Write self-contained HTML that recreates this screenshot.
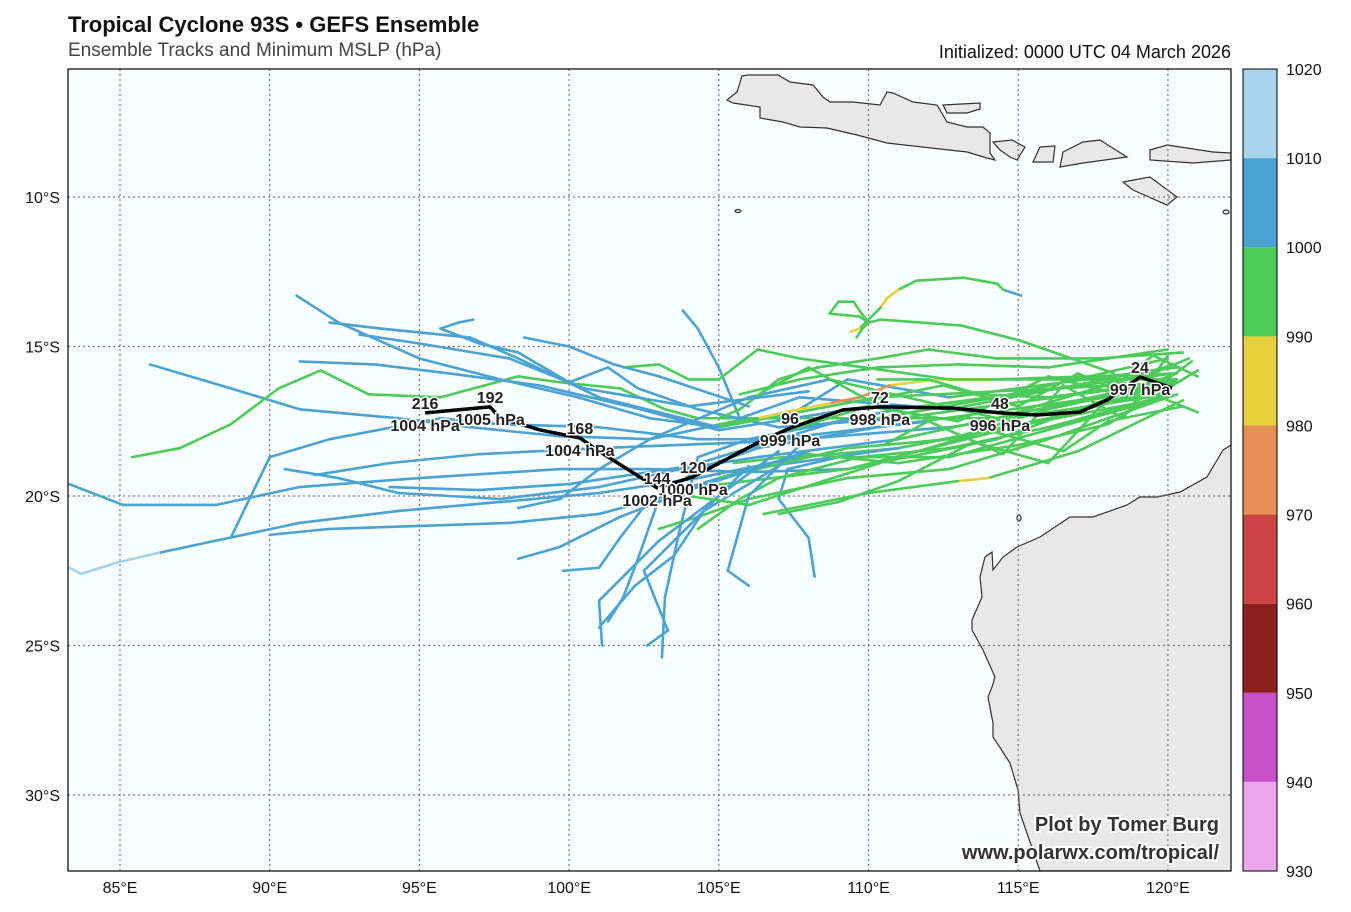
<!DOCTYPE html>
<html><head><meta charset="utf-8">
<style>
body{margin:0;background:#fff;font-family:"Liberation Sans",sans-serif;}
svg{display:block}
.t{font-family:"Liberation Sans",sans-serif;}
</style></head>
<body>
<svg id="chart" width="1351" height="912" viewBox="0 0 1351 912">
<defs><clipPath id="mapclip"><rect x="68" y="69" width="1163" height="802"/></clipPath></defs>
<text x="68" y="32" font-size="22" font-weight="bold" fill="#111" class="t">Tropical Cyclone 93S • GEFS Ensemble</text>
<text x="68" y="56" font-size="19" fill="#444" class="t">Ensemble Tracks and Minimum MSLP (hPa)</text>
<text x="1231" y="58" font-size="18" fill="#111" text-anchor="end" class="t">Initialized: 0000 UTC 04 March 2026</text>
<rect x="68" y="69" width="1163" height="802" fill="#f8fdfe"/>
<g clip-path="url(#mapclip)">
<g id="land" fill="#e8e8e8" stroke="#333" stroke-width="1.2">
<path d="M742,76 L748,75 L778,75 L790,82 L813,85 L823,97 L830,102 L853,102 L880,105 L887,92 L893,93 L913,102 L937,105 L947,122 L967,127 L983,127 L990,133 L990,153 L995,160 L987,158 L967,152 L940,149 L887,143 L857,135 L827,128 L800,127 L783,122 L760,118 L760,107 L733,103 L727,100 L737,92 Z"/>
<path d="M943,105 L980,103 L980,109 L967,113 L947,113 Z"/>
<path d="M993,142 L1012,140 L1025,147 L1017,160 L1010,157 L1000,150 Z"/>
<path d="M1040,147 L1055,146 L1053,162 L1033,162 Z"/>
<path d="M1063,152 L1083,142 L1100,140 L1127,157 L1083,163 L1060,167 Z"/>
<path d="M1150,150 L1167,145 L1213,152 L1231,153 L1231,160 L1193,163 L1150,160 Z"/>
<path d="M1123,182 L1150,177 L1177,197 L1167,205 L1133,190 Z"/>
<path d="M1231,445 L1223,450 L1207,477 L1180,492 L1157,497 L1140,497 L1127,505 L1093,517 L1070,517 L1040,537 L1017,547 L1003,557 L993,570 L992,552 L985,557 L980,577 L982,597 L972,620 L972,630 L983,650 L995,677 L992,687 L988,697 L993,723 L993,737 L1010,763 L1018,790 L1020,813 L1040,871 L1240,871 L1240,445 Z"/>
<ellipse cx="738" cy="211" rx="3" ry="1.5"/><ellipse cx="1226" cy="212" rx="3" ry="2"/><ellipse cx="1019" cy="518" rx="2" ry="3"/>
</g>
<g id="grid"></g>
<g id="tracks"></g>
<g id="mean"></g>
</g>
<rect x="68" y="69" width="1163" height="802" fill="none" stroke="#000" stroke-width="1.2"/>
<g id="axes"></g>
<g id="cbar"></g>
<g font-size="20" font-weight="bold" text-anchor="end" fill="#333" stroke="#fff" stroke-width="4" paint-order="stroke" class="t">
<text x="1219" y="831">Plot by Tomer Burg</text>
<text x="1219" y="859">www.polarwx.com/tropical/</text>
</g>
</svg>
<script>
const NS="http://www.w3.org/2000/svg";
const lonTicks=[85,90,95,100,105,110,115,120];
const latTicks=[10,15,20,25,30];
const cbarLevels=[930,940,950,960,970,980,990,1000,1010,1020];
const cbarColors=["#eaa6e8","#c94fc9","#8b1f1f","#cc4343","#e79055","#e6d03c","#4dcb5a","#4ba3d3","#a6d3ec"];
const meanLon=[120.14,119.07,117.97,117.06,115.63,114.39,112.82,110.38,109.15,107.38,106.28,104.14,102.94,100.93,100.36,99.03,97.69,97.36,95.19];
const meanLat=[-16.39,-16.02,-16.79,-17.19,-17.29,-17.22,-17.06,-17.02,-17.12,-17.73,-18.23,-19.36,-19.73,-18.46,-18.06,-17.79,-17.39,-17.02,-17.22];
const labelIdx=[1,5,7,9,11,12,14,17,18];
const labelHours=[24,48,72,96,120,144,168,192,216];
const labelPres=[997,996,998,999,1000,1002,1004,1005,1004];
// ensemble tracks: [lon, lat, pressure]
const tracks=[
[[120.3,-16.2,995],[116,-17.4,995],[111,-18.4,995],[107.7,-18.7,1005],[104.3,-19.4,1005],[101,-19.9,1005],[97.7,-20.2,1005],[94.3,-20.5,1005],[91,-20.9,1005],[87.7,-21.6,1005],[86.3,-21.9,1012],[85,-22.2,1012],[83.7,-22.6,1012],[83.3,-22.4,1012]],
[[120.3,-15.9,995],[114.3,-18.1,995],[109.3,-19.1,1005],[106,-19.2,1005],[102.7,-19.1,1005],[99.7,-19.1,1005],[95,-19.4,1005],[91,-19.7,1005],[88.2,-20.3,1005],[85.1,-20.3,1005],[83.3,-19.6,1005]],
[[120,-15.4,995],[114.3,-16.7,995],[110.3,-17.4,1005],[106,-17.4,1005],[102.7,-18.1,1005],[99.7,-18,1005],[96.7,-17.7,1005],[94.3,-17.4,1005],[91,-17.1,1005],[88.7,-16.4,1005],[86,-15.6,1005]],
[[120.2,-15.6,995],[114.3,-17.4,995],[109.3,-17.4,995],[104.3,-17.4,995],[103.2,-17.1,995],[101.7,-16.4,995],[99.7,-16.2,995],[98.3,-16,995],[95.7,-16.7,995],[93.3,-16.6,995],[91.7,-15.8,995],[90.3,-16.4,995],[88.7,-17.6,995],[87,-18.4,995],[85.4,-18.7,995]],
[[120.3,-15.7,995],[112.7,-16.7,1005],[109.3,-16.1,1005],[107.7,-17.1,1005],[105,-17.7,1005],[102.7,-17.4,1005],[100.3,-16.7,1005],[97.7,-16.1,1005],[95,-15.4,1005],[92.3,-14.2,1005],[90.9,-13.3,1005]],
[[120,-16.6,995],[112.7,-17.7,1005],[107.7,-18.1,1005],[104.3,-18.1,1005],[101,-17.7,1005],[97.7,-17.6,1005],[95.7,-17.4,1005],[92,-18.1,1005],[90,-18.7,1005],[88.7,-21.4,1005]],
[[120.3,-16.1,995],[111,-18.1,1005],[106.3,-18.7,1005],[103.7,-19.1,1005],[101,-19.7,1005],[97.7,-20.1,1005],[94.3,-19.9,1005],[92.3,-19.4,1005],[90.5,-19.1,1005]],
[[120,-16.2,995],[111,-17.4,1005],[107,-17.7,1005],[104.3,-17.1,1005],[102.3,-16.4,1005],[101.3,-15.7,1005],[100,-16.2,1005],[98.3,-15.2,1005],[97,-14.9,1005],[95.7,-14.4,1005],[96.3,-14.2,1005],[96.8,-14.1,1005]],
[[120,-16.4,995],[110.3,-17.7,1005],[106.3,-18.4,1005],[104.3,-19.1,1005],[103,-20.1,1005],[102.3,-22.1,1005],[101.8,-23.4,1005],[101.3,-24.2,1005]],
[[120.2,-15.9,995],[111,-17.1,1005],[106,-18.1,1005],[104.3,-18.7,1005],[103.7,-21.1,1005],[103.2,-23.4,1005],[103.1,-25.4,1005]],
[[120,-15.7,995],[112.7,-17.1,1005],[107.7,-16.7,1005],[105.7,-17.4,1005],[105,-15.7,1005],[104.3,-14.4,1005],[103.8,-13.8,1005]],
[[120.3,-16.6,995],[112.7,-18.7,995],[109,-18.7,1005],[107.3,-19.1,1005],[107,-20.1,1005],[108,-21.4,1005],[108.2,-22.7,1005]],
[[120,-16.7,995],[111,-18.4,1005],[106,-19.1,1005],[102.7,-20.1,1005],[101.7,-21.4,1005],[101,-22.4,1005],[99.8,-22.5,1005]],
[[120.2,-16.1,995],[114.3,-17.4,995],[108.7,-16.1,1005],[106,-16.7,1005],[102.7,-18.1,1005],[101,-19.1,1005],[99.7,-20.1,1005],[98.3,-20.4,1005]],
[[120.3,-16.2,995],[110.3,-16.7,995],[105,-17.7,1005],[101,-16.7,1005],[98.3,-15.4,1005],[96.7,-14.7,1005],[93.7,-14.4,1005],[92,-14.2,1005]],
[[120,-16.4,995],[109.3,-19.1,995],[104.3,-19.7,1005],[101.7,-20.7,1005],[99.7,-21.7,1005],[98.3,-22.1,1005]],
[[115.1,-13.3,1005],[114.5,-13.1,995],[114.3,-12.9,995],[113.2,-12.7,995],[111.6,-12.8,995],[111,-13.1,985],[110.6,-13.4,985],[110.4,-13.7,995],[110.1,-14.0,995],[109.7,-14.4,985],[109.4,-14.5,985]],
[[118.2,-15.9,995],[115.06,-14.8,995],[113.1,-14.3,995],[110.4,-14.1,995],[110,-14.2,995],[109.7,-13.8,995],[109.5,-13.5,995],[109,-13.5,995],[108.7,-13.9,995],[109.7,-14.0,995],[110,-14.2,995],[109.8,-14.4,995],[109.6,-14.7,995]],
[[120.5,-15.2,995],[117.7,-15.4,995],[114.3,-15.4,995],[112,-15.1,995],[110.3,-15.4,995],[108.3,-15.7,995],[107,-16.1,995],[105.7,-17.1,995],[105,-17.4,995]],
[[120.3,-16.6,995],[116,-18.1,995],[112.7,-19.1,995],[109.3,-19.4,995],[106,-20.1,995],[104.3,-20.7,995],[103,-21.1,995]],
[[120.2,-16.2,995],[116,-17.1,995],[112.7,-18.1,995],[109.3,-18.4,995],[106.3,-19.1,995],[105,-19.4,995]],
[[119.7,-16.7,995],[116,-17.7,995],[112.7,-18.4,995],[109.7,-18.7,995],[107,-19.4,995],[105.7,-20.1,995],[104.3,-21.1,995]],
[[120,-15.1,995],[116,-15.7,995],[113,-15.6,995],[110.3,-15.7,995],[107.7,-16.1,995],[105.7,-16.6,995]],
[[120.3,-15.9,995],[114.3,-16.1,985],[112.3,-16.1,985],[110.7,-16.3,975],[109.7,-16.7,975],[108.7,-16.9,985],[107.7,-17.1,985],[106.3,-17.4,995],[105,-17.6,995]],
[[120.7,-15.4,995],[118.3,-16.4,995],[116,-16.7,995],[113.7,-16.6,995],[112,-16.1,995],[110.3,-16.1,995]],
[[120.3,-16.1,995],[112.7,-16.1,995],[107.7,-15.4,995],[106.3,-15.1,995],[105,-16.1,995],[104,-16.1,995],[103,-15.6,995],[101.8,-15.7,995]],
[[120.5,-16.8,995],[117,-18.5,995],[114,-19.4,985],[113,-19.5,995],[110,-19.9,995],[106.5,-20.6,995]],
[[121,-15.8,995],[118,-17.6,995],[115,-18.3,995],[111,-18.9,995],[108,-18.6,995],[105.5,-18.9,995]],
[[112,-17.5,1005],[106,-18.2,1005],[101,-18.4,1005],[97,-18.6,1005],[94,-18.9,1005],[91.5,-19.3,1005]],
[[110,-17,1005],[105,-17.8,1005],[102,-17,1005],[99,-16.3,1005],[96,-15.9,1005],[93.5,-15.6,1005],[91,-15.5,1005]],
[[108,-16.5,1005],[104,-17,1005],[100.5,-16.4,1005],[98,-15.4,1005],[95,-14.9,1005],[93,-14.6,1005]],
[[108,-18.5,1005],[104,-19.8,1005],[101,-20.6,1005],[98,-20.9,1005],[95,-21,1005],[92,-21.1,1005],[90,-21.3,1005]],
[[107,-19,1005],[104.5,-20.5,1005],[103.5,-22,1005],[102.2,-23,1005],[101,-24.4,1005]],
[[106,-19,1005],[104,-21,1005],[102.5,-22.5,1005],[103.3,-24.5,1005],[102.6,-25,1005]],
[[108,-18,1005],[106,-20,1005],[105.3,-22.5,1005],[106,-23,1005]],
[[107,-18.5,1005],[103,-21.5,1005],[101,-23.5,1005],[101.1,-25,1005]],
[[106,-17,1005],[103,-16,1005],[101.5,-15.6,1005],[100,-15,1005],[98.5,-14.7,1005]],
[[109,-17.5,1005],[104,-19,1005],[100,-19.6,1005],[97,-19.8,1005],[94,-19.7,1005]],
[[121,-16,995],[119.5,-15.3,995],[118,-16.5,995],[116,-16,995],[113,-17.5,995],[110,-17,995],[107,-17.9,995]],
[[120.5,-17,995],[118,-17.5,995],[116.5,-18.5,995],[114,-17.8,995],[111,-18.7,995],[108.5,-19.5,995],[106,-20.3,995],[104,-20,995]],
[[120.8,-15.5,995],[119,-16.8,995],[117,-15.9,995],[115,-17,995],[112.5,-16.3,995],[110,-16.8,995],[108,-15.7,995],[106.5,-16.5,995]],
[[121,-17.2,995],[118.5,-16.2,995],[116,-18.9,995],[113.5,-18.2,995],[111,-19.5,995],[109,-20.2,995],[107,-20.6,995]],
[[120,-15.3,995],[118.5,-17.4,995],[116.5,-16.3,995],[114.5,-18.6,995],[112,-17.5,995],[110.5,-18.3,995]]
];
function xOf(lon){return 120+(lon-85)*29.94;}
function yOf(lat){return 197+(-lat-10)*29.9;}
function colorOf(p){for(let i=0;i<cbarColors.length;i++){if(p<cbarLevels[i+1])return cbarColors[i];}return cbarColors[cbarColors.length-1];}
function mk(tag,attrs,parent){const e=document.createElementNS(NS,tag);for(const k in attrs)e.setAttribute(k,attrs[k]);parent.appendChild(e);return e;}
const grid=document.getElementById('grid'),axes=document.getElementById('axes');
lonTicks.forEach(l=>{const x=xOf(l);
 const g=mk('line',{x1:x,x2:x,y1:69,y2:871,stroke:'#777','stroke-width':1.2,'stroke-dasharray':'2,3'},grid);
 
 
 const t=mk('text',{x:x,y:893,'font-size':16,'text-anchor':'middle',fill:'#111',class:'t'},axes);t.textContent=l+'°E';
 
 
});
latTicks.forEach(l=>{const y=yOf(-l);
 const g=mk('line',{x1:68,x2:1231,y1:y,y2:y,stroke:'#777','stroke-width':1.2,'stroke-dasharray':'2,3'},grid);
 
 
 const t=mk('text',{x:60,y:y+6,'font-size':16,'text-anchor':'end',fill:'#111',class:'t'},axes);t.textContent=l+'°S';
 
 
});
const tg=document.getElementById('tracks');
tracks.forEach(tr=>{for(let i=0;i<tr.length-1;i++){
 const s=mk('line',{x1:xOf(tr[i][0]),y1:yOf(tr[i][1]),x2:xOf(tr[i+1][0]),y2:yOf(tr[i+1][1]),stroke:colorOf(tr[i][2]),'stroke-width':2.6,'stroke-linecap':'round'},tg);
 
 
}});
const mg=document.getElementById('mean');
const mp=mk('polyline',{points:meanLon.map((l,i)=>xOf(l)+','+yOf(meanLat[i])).join(' '),fill:'none',stroke:'#000','stroke-width':3.5,'stroke-linejoin':'round'},mg);


labelIdx.forEach((idx,k)=>{const x=xOf(meanLon[idx]),y=yOf(meanLat[idx]);
 const a=mk('text',{x:x,y:y-4,'font-size':16,'font-weight':'bold','text-anchor':'middle',fill:'#222',stroke:'#fff','stroke-width':3,'paint-order':'stroke',class:'t'},mg);a.textContent=labelHours[k];
 
 
 const b=mk('text',{x:x,y:y+18,'font-size':16,'font-weight':'bold','text-anchor':'middle',fill:'#222',stroke:'#fff','stroke-width':3,'paint-order':'stroke',class:'t'},mg);b.textContent=labelPres[k]+' hPa';
 
 
});
const cb=document.getElementById('cbar');const cTop=69,cBot=871,cH=(cBot-cTop)/cbarColors.length;
cbarColors.forEach((c,i)=>{const r=mk('rect',{x:1243,y:cBot-(i+1)*cH,width:34,height:cH,fill:c},cb);
 
 });
const fr=mk('rect',{x:1243,y:cTop,width:34,height:cBot-cTop,fill:'none',stroke:'#000','stroke-width':1},cb);


cbarLevels.forEach((v,i)=>{const y=cBot-i*cH;
 const t=mk('text',{x:1286,y:y+6,'font-size':16,fill:'#111',class:'t'},cb);t.textContent=v;
 
 });
</script>
</body></html>
